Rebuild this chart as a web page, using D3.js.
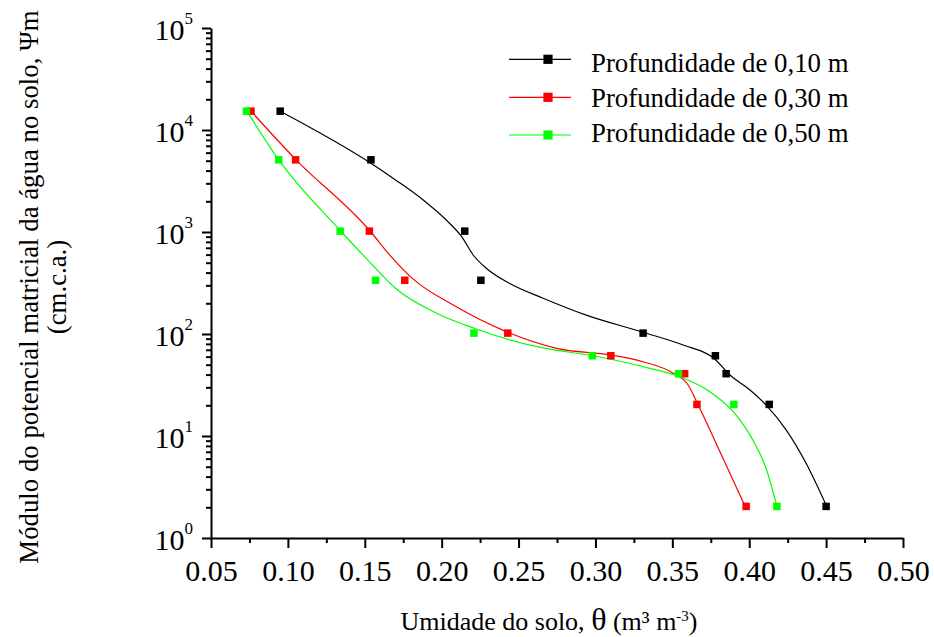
<!DOCTYPE html>
<html>
<head>
<meta charset="utf-8">
<script src="https://cdn.jsdelivr.net/npm/d3@7"></script>
<style>
  html, body { margin: 0; padding: 0; background: #fff; }
  svg { display: block; font-family: "Liberation Serif", "Times New Roman", serif; }
</style>
</head>
<body>
<svg id="chart" width="934" height="637"></svg>
<script>
// ---- Data ----
const seriesNames = ["Profundidade de 0,10 m", "Profundidade de 0,30 m", "Profundidade de 0,50 m"];
const seriesColors = ["#000000", "#ff0000", "#00ff00"];

// measured points: matric potential (cm c.a.) and soil moisture per depth
const psiMeasured = [15300, 5100, 1020, 336, 102, 61.2, 40.8, 20.4, 2.04];
const theta10 = [0.095, 0.154, 0.215, 0.2255, 0.331, 0.378, 0.385, 0.413, 0.450];
const theta30 = [0.076, 0.105, 0.153, 0.176, 0.243, 0.310, 0.358, 0.366, 0.398];
const theta50 = [0.073, 0.094, 0.134, 0.157, 0.221, 0.298, 0.354, 0.390, 0.418];

// fitted retention curves
const fit10Theta = [0.095, 0.154, 0.170, 0.188, 0.203, 0.213, 0.2205, 0.229, 0.244, 0.266, 0.294, 0.331, 0.357, 0.377, 0.3875, 0.4005, 0.411, 0.424, 0.437, 0.450];
const fit10Psi   = [15300, 4720, 3240, 2060, 1310, 900, 595, 441, 314, 224, 153, 104, 78, 57.8, 39.6, 28.2, 20.1, 11.5, 5.4, 2.1];
const fit30Theta = [0.076, 0.105, 0.153, 0.1664, 0.1815, 0.2075, 0.2423, 0.2748, 0.310, 0.331, 0.3506, 0.3603, 0.3658, 0.3744, 0.397];
const fit30Psi   = [15300, 5160, 1040, 590, 345, 192, 105, 72.4, 62.2, 53.5, 41.2, 31.6, 21.7, 11.5, 2.1];
const fit50Theta = [0.0734, 0.0938, 0.1339, 0.1512, 0.1707, 0.1967, 0.221, 0.2618, 0.3029, 0.3354, 0.3549, 0.3744, 0.3896, 0.4005, 0.4113, 0.4178];
const fit50Psi   = [15300, 5160, 1040, 545, 275, 160, 114, 75.1, 59.5, 46.1, 38.1, 27.2, 17.3, 10.2, 4.64, 2.1];

// axis ticks
const xMajorTicks = [0.05, 0.10, 0.15, 0.20, 0.25, 0.30, 0.35, 0.40, 0.45, 0.50];
const xMinorTicks = [0.075, 0.125, 0.175, 0.225, 0.275, 0.325, 0.375, 0.425, 0.475];
const yMajorTicks = [1, 10, 100, 1000, 10000, 100000];
const yExponents = ["0", "1", "2", "3", "4", "5"];

const xTitle = "Umidade do solo, ";
const yTitle1 = "Módulo do potencial matricial da água no solo, Ψm";
const yTitle2 = "(cm.c.a.)";

// ---- Build ----
const svg = d3.select("#chart");
const x = d3.scaleLinear().domain([0.05, 0.50]).range([211, 903]);
const y = d3.scaleLog().domain([1, 100000]).range([538, 28]);

const yMinorTicks = [];
for (let e = 0; e < 5; e++) for (let m = 2; m <= 9; m++) yMinorTicks.push(m * Math.pow(10, e));

function styleAxis(g) {
  g.select(".domain").attr("stroke", "#000").attr("stroke-width", 2);
  g.selectAll(".tick line").attr("stroke", "#000").attr("stroke-width", 2);
}

// X axis
const gx = svg.append("g").attr("transform", "translate(0,538)")
  .call(d3.axisBottom(x).tickValues(xMajorTicks).tickSize(10).tickSizeOuter(0).tickFormat(d3.format(".2f")));
styleAxis(gx);
gx.selectAll(".tick text").attr("font-size", 30).attr("font-family", "Liberation Serif").attr("fill", "#000")
  .attr("y", 22).attr("dy", "0.71em");
const gxm = svg.append("g").attr("transform", "translate(0,538)")
  .call(d3.axisBottom(x).tickValues(xMinorTicks).tickSize(5).tickFormat(""));
styleAxis(gxm);
gxm.select(".domain").remove();

// Y axis
const gy = svg.append("g").attr("transform", "translate(211,0)")
  .call(d3.axisLeft(y).tickValues(yMajorTicks).tickSize(9).tickSizeOuter(0).tickFormat(""));
styleAxis(gy);
const gym = svg.append("g").attr("transform", "translate(211,0)")
  .call(d3.axisLeft(y).tickValues(yMinorTicks).tickSize(5).tickFormat(""));
styleAxis(gym);
gym.select(".domain").remove();

// Y tick labels with superscript exponents
const ylab = svg.append("g").attr("font-family", "Liberation Serif").attr("fill", "#000");
yMajorTicks.forEach((v, i) => {
  const t = ylab.append("text").attr("x", 193).attr("y", y(v) + 11.7).attr("text-anchor", "end").attr("font-size", 30);
  t.append("tspan").text("10");
  t.append("tspan").attr("font-size", 17).attr("dy", -15.7).text(yExponents[i]);
});

// Fitted curves
const fits = [
  fit10Theta.map((t, i) => [t, fit10Psi[i]]),
  fit30Theta.map((t, i) => [t, fit30Psi[i]]),
  fit50Theta.map((t, i) => [t, fit50Psi[i]])
];
const line = d3.line().x(d => x(d[0])).y(d => y(d[1])).curve(d3.curveMonotoneX);
fits.forEach((f, i) => {
  svg.append("path").datum(f).attr("d", line).attr("fill", "none")
    .attr("stroke", seriesColors[i]).attr("stroke-width", 1.2);
});

// Measured markers
const thetas = [theta10, theta30, theta50];
thetas.forEach((th, i) => {
  svg.append("g").selectAll("rect").data(th.map((t, j) => [t, psiMeasured[j]])).join("rect")
    .attr("x", d => x(d[0]) - 3.75).attr("y", d => y(d[1]) - 3.75)
    .attr("width", 7.5).attr("height", 7.5).attr("fill", seriesColors[i]);
});

// Legend
const legLineY = [59.3, 97.3, 135];
const legTextY = [71.5, 106.5, 141.5];
const leg = svg.append("g");
seriesNames.forEach((name, i) => {
  leg.append("line").attr("x1", 509).attr("x2", 571).attr("y1", legLineY[i]).attr("y2", legLineY[i])
    .attr("stroke", seriesColors[i]).attr("stroke-width", 1.2);
  leg.append("rect").attr("x", 548 - 4.6).attr("y", legLineY[i] - 4.6).attr("width", 9.2).attr("height", 9.2)
    .attr("fill", seriesColors[i]);
  leg.append("text").attr("x", 591).attr("y", legTextY[i]).attr("font-size", 26.8).attr("fill", "#000").text(name);
});

// Axis titles
const xt = svg.append("text").attr("x", 549).attr("y", 630).attr("text-anchor", "middle")
  .attr("font-size", 26).attr("fill", "#000");
xt.append("tspan").text(xTitle);
xt.append("tspan").attr("font-size", 32).text("θ");
xt.append("tspan").text(" (m³ m");
xt.append("tspan").attr("font-size", 15).attr("dy", -9).text("-3");
xt.append("tspan").attr("dy", 9).text(")");

svg.append("text").attr("transform", "translate(38,287) rotate(-90)").attr("text-anchor", "middle")
  .attr("font-size", 26.8).attr("fill", "#000").text(yTitle1);
svg.append("text").attr("transform", "translate(66,287) rotate(-90)").attr("text-anchor", "middle")
  .attr("font-size", 26.8).attr("fill", "#000").text(yTitle2);
</script>
</body>
</html>
